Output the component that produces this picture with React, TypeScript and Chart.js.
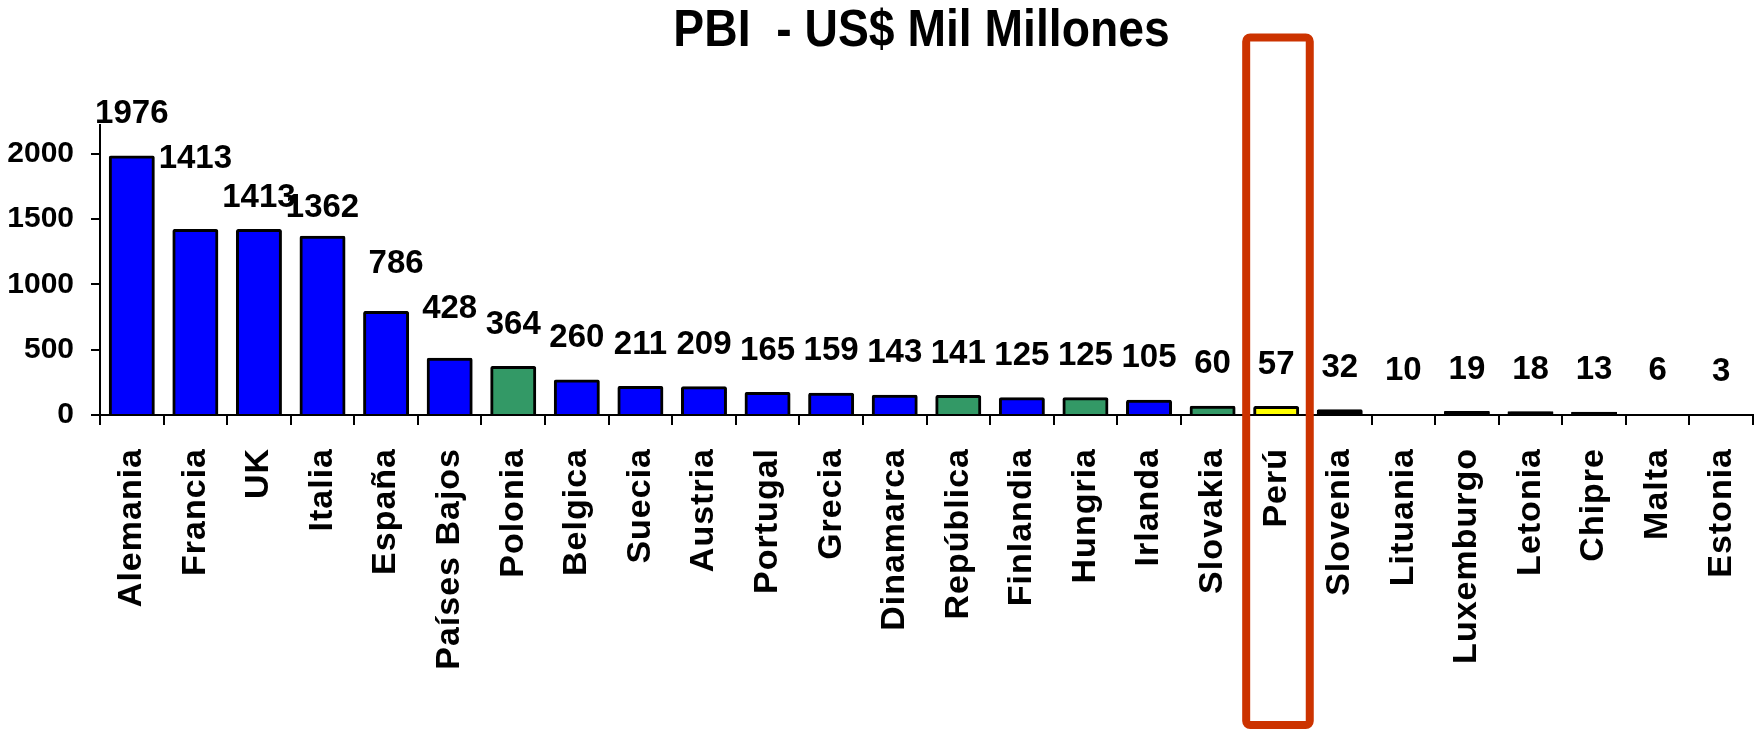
import React, { useEffect, useRef } from "react";
import { Chart, registerables } from "chart.js";

Chart.register(...registerables);

// ---- data ----
const TITLE = "PBI  - US$ Mil Millones";
const countries = [
  "Alemania", "Francia", "UK", "Italia", "España", "Países Bajos", "Polonia",
  "Belgica", "Suecia", "Austria", "Portugal", "Grecia", "Dinamarca", "República",
  "Finlandia", "Hungria", "Irlanda", "Slovakia", "Perú", "Slovenia", "Lituania",
  "Luxemburgo", "Letonia", "Chipre", "Malta", "Estonia",
];
const gdp = [
  1976, 1413, 1413, 1362, 786, 428, 364, 260, 211, 209, 165, 159, 143, 141,
  125, 125, 105, 60, 57, 32, 10, 19, 18, 13, 6, 3,
];
const yTicks = [0, 500, 1000, 1500, 2000];
const Y_MAX = 2222;
const HIGHLIGHT = "Perú";

// ---- styles ----
const BLUE = "#0000FF";
const GREEN = "#339966";
const YELLOW = "#FFFF00";
const BLACK = "#000000";
const NONE = "rgba(0,0,0,0)";
const barColors = [
  BLUE, BLUE, BLUE, BLUE, BLUE, BLUE, GREEN, BLUE, BLUE, BLUE, BLUE, BLUE, BLUE,
  GREEN, BLUE, GREEN, BLUE, GREEN, YELLOW, BLACK, NONE, BLACK, BLACK, BLACK, NONE, NONE,
];
const borderColors = barColors.map((c) => (c === NONE ? NONE : BLACK));
// manual label nudges (dx, dy) as placed in the original
const labelNudges: Record<string, [number, number]> = {
  Francia: [0, -29],
  UK: [0, 10],
  Italia: [0, 14],
  "España": [10, -6],
  "Países Bajos": [0, -7],
};

const FONT = "'Liberation Sans', Arial, Helvetica, sans-serif";

const titlePlugin = {
  id: "scaledTitle",
  afterDraw(chart: any) {
    const ctx = chart.ctx;
    const { left, right } = chart.chartArea;
    ctx.save();
    ctx.font = `bold 52px ${FONT}`;
    ctx.fillStyle = "#000";
    ctx.textAlign = "center";
    ctx.textBaseline = "alphabetic";
    ctx.translate((left + right) / 2 - 5, 45.5);
    ctx.scale(0.89, 1);
    ctx.fillText(TITLE, 0, 0);
    ctx.restore();
  },
};

const valueLabels = {
  id: "valueLabels",
  afterDatasetsDraw(chart: any) {
    const ctx = chart.ctx;
    const meta = chart.getDatasetMeta(0);
    ctx.save();
    ctx.font = `bold 33px ${FONT}`;
    ctx.fillStyle = "#000";
    ctx.textAlign = "center";
    ctx.textBaseline = "middle";
    meta.data.forEach((bar: any, i: number) => {
      const [dx, dy] = labelNudges[countries[i]] || [0, 0];
      ctx.fillText(String(gdp[i]), bar.x + dx, bar.y - 43 + dy);
    });
    ctx.restore();
  },
};

const highlightBox = {
  id: "highlightBox",
  afterDraw(chart: any) {
    const x = chart.scales.x;
    const idx = countries.indexOf(HIGHLIGHT);
    if (idx < 0) return;
    const cx = x.getPixelForValue(idx);
    const band = x.getPixelForValue(1) - x.getPixelForValue(0);
    const left = cx - band / 2 + 1.8;
    const right = cx + band / 2 + 1.8;
    const top = 37.5;
    const bottom = chart.height - 4;
    const ctx = chart.ctx;
    ctx.save();
    ctx.strokeStyle = "#CC3300";
    ctx.lineWidth = 8;
    ctx.beginPath();
    if ((ctx as any).roundRect) {
      (ctx as any).roundRect(left, top, right - left, bottom - top, 4);
    } else {
      ctx.rect(left, top, right - left, bottom - top);
    }
    ctx.stroke();
    ctx.restore();
  },
};

export default function App() {
  const ref = useRef<HTMLCanvasElement | null>(null);

  useEffect(() => {
    if (!ref.current) return;
    const chart = new Chart(ref.current, {
      type: "bar",
      data: {
        labels: countries,
        datasets: [
          {
            data: gdp,
            backgroundColor: barColors,
            borderColor: borderColors,
            borderWidth: 3,
            borderRadius: 2,
            inflateAmount: 1.5,
            barPercentage: 0.676,
            categoryPercentage: 1,
          } as any,
        ],
      },
      options: {
        responsive: false,
        animation: false,
        devicePixelRatio: 1,
        layout: { padding: { left: 0, right: 2, top: 125, bottom: 0 } },
        plugins: {
          legend: { display: false },
          tooltip: { enabled: false },
          title: { display: false },
        },
        scales: {
          x: {
            afterFit: (s: any) => {
              s.height = 314;
              s.paddingLeft = 0;
              s.paddingRight = 0;
              if (!s.__ls) {
                const orig = s.drawLabels;
                s.drawLabels = function (area: any) {
                  const c = this.ctx;
                  c.save();
                  c.letterSpacing = "1px";
                  orig.call(this, area);
                  c.restore();
                };
                s.__ls = true;
              }
            },
            grid: {
              drawOnChartArea: false,
              drawTicks: true,
              tickLength: 10,
              color: "#000",
              lineWidth: 2,
              offset: true,
            },
            border: { display: true, color: "#000", width: 2, z: 1 },
            ticks: {
              autoSkip: false,
              minRotation: 90,
              maxRotation: 90,
              color: "#000",
              padding: 23,
              font: { family: FONT, size: 34, weight: "bold" },
            },
          },
          y: {
            min: 0,
            max: Y_MAX,
            afterBuildTicks: (s: any) => {
              s.ticks = yTicks.map((v) => ({ value: v }));
            },
            afterFit: (s: any) => {
              s.width = 100;
              s.paddingTop = 0;
              s.paddingBottom = 0;
            },
            grid: {
              drawOnChartArea: false,
              drawTicks: true,
              tickLength: 9,
              color: "#000",
              lineWidth: 2,
            },
            border: { display: true, color: "#000", width: 2, z: 1 },
            ticks: {
              color: "#000",
              padding: 17,
              font: { family: FONT, size: 30, weight: "bold" },
              callback: (v: any) => String(v),
            },
          },
        },
      } as any,
      plugins: [valueLabels, highlightBox, titlePlugin],
    });
    return () => chart.destroy();
  }, []);

  return (
    <div style={{ position: "fixed", left: 0, top: 0, width: 1755, height: 729, background: "#fff" }}>
      <canvas ref={ref} width={1755} height={729} style={{ display: "block" }} />
    </div>
  );
}
